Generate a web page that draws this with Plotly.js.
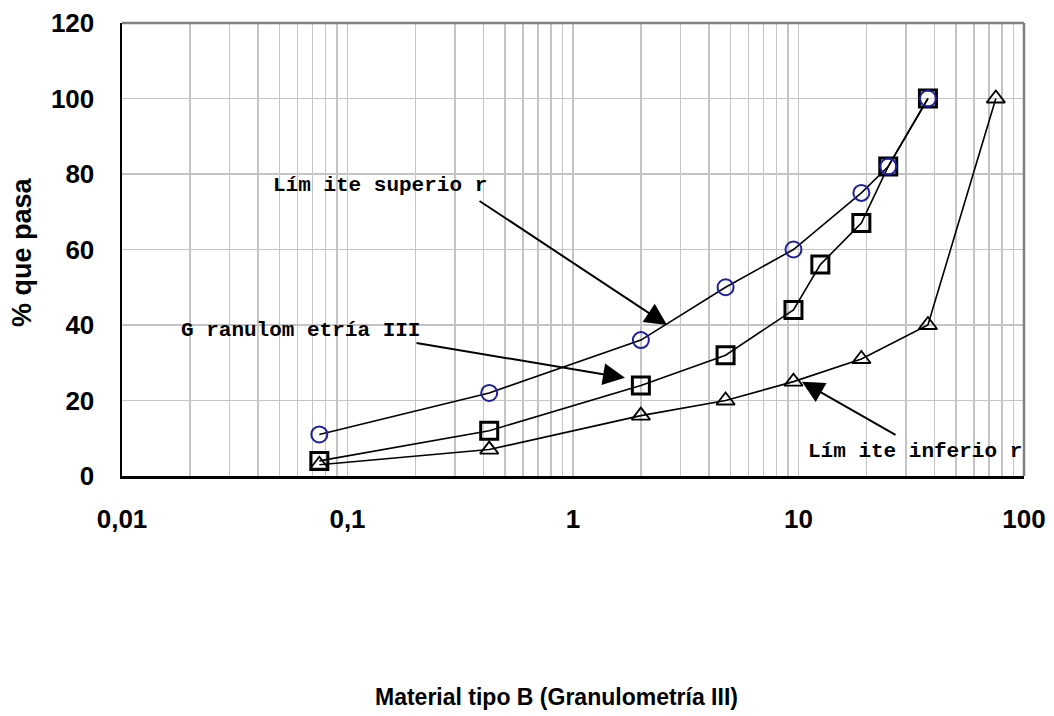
<!DOCTYPE html>
<html>
<head>
<meta charset="utf-8">
<script src="https://cdn.plot.ly/plotly-3.0.1.min.js"></script>
<style>html,body{margin:0;padding:0;background:#fff;}#chart{width:1054px;height:716px;}</style>
</head>
<body>
<div id="chart"></div>
<script>
// Sieve sizes (mm) and % passing
const upperX = [0.075, 0.425, 2, 4.75, 9.5, 19, 25, 37.5];
const upperY = [11, 22, 36, 50, 60, 75, 82, 100];
const granX  = [0.075, 0.425, 2, 4.75, 9.5, 12.5, 19, 25, 37.5];
const granY  = [4, 12, 24, 32, 44, 56, 67, 82, 100];
const lowerX = [0.075, 0.425, 2, 4.75, 9.5, 19, 37.5, 75];
const lowerY = [3, 7, 16, 20, 25, 31, 40, 100];
const xTickVals = [0.01, 0.1, 1, 10, 100];
const xTickText = ['0,01', '0,1', '1', '10', '100'];
const yTickVals = [0, 20, 40, 60, 80, 100, 120];

const minorVals = [];
[0.01, 0.1, 1, 10].forEach(d => { for (let k = 2; k <= 9; k++) minorVals.push(d * k); });

const lineStyle = {color: '#000', width: 1.6};
const traces = [
  {x: granX, y: granY, mode: 'lines+markers', name: 'Granulometría III', line: lineStyle,
   marker: {symbol: 'square-open', size: 17, color: '#000', line: {width: 3, color: '#000'}}},
  {x: lowerX, y: lowerY, mode: 'lines+markers', name: 'Límite inferior', line: lineStyle,
   marker: {symbol: 'triangle-up-open', size: 16, color: '#000', line: {width: 1.8, color: '#000'}}},
  {x: upperX, y: upperY, mode: 'lines+markers', name: 'Límite superior', line: lineStyle,
   marker: {symbol: 'circle-open', size: 16, color: '#1f1f9c', line: {width: 2, color: '#1f1f9c'}}}
];

const L = 122, R = 1024, T = 23, B = 476;
const px = v => (v - L) / (R - L);
const py = v => (B - v) / (B - T);
const txtFont = {family: 'Liberation Mono, Courier New, monospace', size: 21, color: '#000', weight: 'bold'};

const layout = {
  width: 1054, height: 716,
  margin: {l: L, r: 1054 - R, t: T, b: 716 - B},
  paper_bgcolor: '#fff', plot_bgcolor: '#fff',
  showlegend: false,
  xaxis: {
    type: 'log', range: [-2, 2],
    tickvals: xTickVals, ticktext: xTickText,
    showgrid: true, gridcolor: '#c4c4c4', gridwidth: 1.5,
    minor: {tickvals: minorVals, showgrid: true, gridcolor: '#c4c4c4', gridwidth: 1.5, ticks: ''},
    showline: true, linecolor: '#000', linewidth: 2.5,
    ticks: '', ticklabelstandoff: 18,
    tickfont: {family: 'Liberation Sans, Arial, sans-serif', size: 26, color: '#000', weight: 'bold'},
    zeroline: false, fixedrange: true
  },
  yaxis: {
    range: [0, 120], tickvals: yTickVals,
    showgrid: true, gridcolor: '#c4c4c4', gridwidth: 1.5,
    showline: true, linecolor: '#000', linewidth: 2.5,
    ticks: '', ticklabelstandoff: 20,
    tickfont: {family: 'Liberation Sans, Arial, sans-serif', size: 26, color: '#000', weight: 'bold'},
    zeroline: false, fixedrange: true
  },
  shapes: [
    {type: 'line', xref: 'paper', yref: 'paper', x0: 0, x1: 1, y0: 1, y1: 1, line: {color: '#808080', width: 2.5}},
    {type: 'line', xref: 'paper', yref: 'paper', x0: 1, x1: 1, y0: 0, y1: 1, line: {color: '#808080', width: 2.5}}
  ],
  annotations: [
    {xref: 'paper', yref: 'paper', x: px(380), y: py(186), xanchor: 'center', yanchor: 'middle', text: 'Lím ite superio r', showarrow: false, font: txtFont},
    {xref: 'paper', yref: 'paper', x: px(300), y: py(330), xanchor: 'center', yanchor: 'middle', text: 'G ranulom etría III', showarrow: false, font: txtFont},
    {xref: 'paper', yref: 'paper', x: px(915), y: py(451), xanchor: 'center', yanchor: 'middle', text: 'Lím ite inferio r', showarrow: false, font: txtFont},
    {xref: 'x', yref: 'y', x: 0.417, y: 40, ax: -189, ay: -125, text: '', showarrow: true,
     arrowhead: 2, arrowsize: 2.2, arrowwidth: 2, arrowcolor: '#000'},
    {xref: 'x', yref: 'y', x: 0.2306, y: 26, ax: -210, ay: -35, text: '', showarrow: true,
     arrowhead: 2, arrowsize: 2.2, arrowwidth: 2, arrowcolor: '#000'},
    {xref: 'x', yref: 'y', x: 1.0155, y: 25, ax: 95, ay: 54, text: '', showarrow: true,
     arrowhead: 2, arrowsize: 2.2, arrowwidth: 2, arrowcolor: '#000'},
    {xref: 'paper', yref: 'paper', x: px(22), y: py(252), xanchor: 'center', yanchor: 'middle', text: '% que pasa', textangle: -90, showarrow: false,
     font: {family: 'Liberation Sans, Arial, sans-serif', size: 27, color: '#000', weight: 'bold'}},
    {xref: 'paper', yref: 'paper', x: px(556), y: py(697), xanchor: 'center', yanchor: 'middle', text: 'Material tipo B (Granulometría III)', showarrow: false,
     font: {family: 'Liberation Sans, Arial, sans-serif', size: 23, color: '#000', weight: 'bold'}}
  ]
};

Plotly.newPlot('chart', traces, layout, {staticPlot: true, displayModeBar: false});
</script>
</body>
</html>
